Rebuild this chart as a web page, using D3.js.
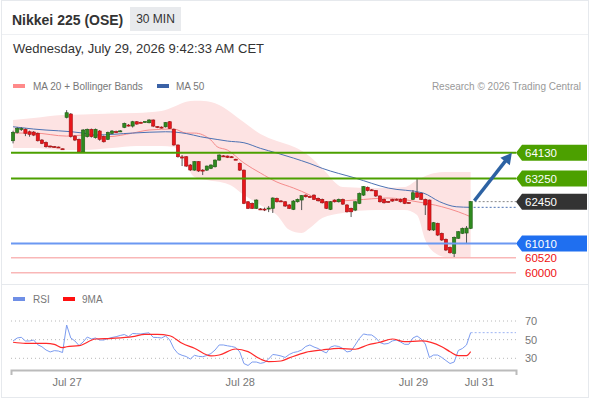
<!DOCTYPE html>
<html><head><meta charset="utf-8">
<script src="https://cdn.jsdelivr.net/npm/d3@7"></script>
<style>
html,body{margin:0;padding:0;background:#fff;}
svg{display:block;font-family:"Liberation Sans",Arial,Helvetica,sans-serif;}
</style></head><body>
<svg id="c" width="590" height="400"></svg>
<script>
// ---------- DATA ----------
const title = "Nikkei 225 (OSE)";
const interval = "30 MIN";
const dateText = "Wednesday, July 29, 2026 9:42:33 AM CET";
const copyright = "Research \u00A9 2026 Trading Central";
const legendMain = ["MA 20 + Bollinger Bands", "MA 50"];
const legendRsi = ["RSI", "9MA"];

// candles [open, high, low, close], 30-minute bars
const candles = [
[64545,64890,64455,64835],[64835,65015,64795,64970],[64950,65015,64880,64965],[64940,64970,64705,64800],[64855,64895,64685,64765],
[64845,64880,64705,64740],[64800,64830,64520,64545],[64570,64605,64430,64455],[64490,64520,64310,64340],[64365,64380,64310,64340],
[64345,64365,64310,64330],[64330,64345,64295,64310],[64270,64275,64250,64260],[65350,65600,65315,65510],[65465,65500,64655,64685],
[64705,64740,64535,64570],[64595,64620,64140,64165],[64165,64950,64155,64915],[64685,64965,64655,64940],[64940,64965,64655,64685],
[64650,64965,64620,64940],[64880,64915,64545,64595],[64685,64725,64485,64510],[64595,64860,64570,64835],[64800,64915,64775,64880],
[64860,64895,64810,64850],[64870,64915,64845,64885],[65005,65170,64980,65145],[65085,65120,65035,65075],[65050,65230,65000,65200],
[65200,65225,65095,65120],[65180,65200,65145,65170],[65195,65225,65170,65205],[65165,65290,65145,65260],[65260,65280,65015,65050],
[65035,65050,64980,65020],[65015,65040,64970,65005],[65025,65190,65000,65170],[65200,65225,64950,64970],[64940,64965,64375,64400],
[64400,64415,63965,63995],[63990,64055,63675,63950],[63995,64020,63640,63675],[63710,63745,63505,63540],[63535,63845,63515,63825],
[63825,63845,63470,63505],[63535,63570,63365,63520],[63535,63690,63505,63675],[63595,63735,63570,63710],[63650,63905,63625,63880],
[63880,64080,63855,64055],[64025,64055,63985,64010],[64020,64035,63950,63975],[63995,64020,63960,63985],[63910,63925,63880,63900],
[63770,63795,63505,63535],[63535,63555,62365,62390],[62445,62470,62195,62220],[62390,62420,62195,62220],[62220,62530,62195,62505],
[62200,62230,62160,62190],[62195,62245,62125,62185],[62220,62300,62090,62230],[62220,62600,62060,62575],[62565,62590,62420,62445],
[62475,62505,62435,62465],[62445,62470,62265,62300],[62335,62365,62195,62220],[62185,62505,62160,62470],[62445,62555,62420,62530],
[62505,62675,62160,62655],[62675,62700,62590,62620],[62625,62650,62590,62615],[62675,62700,62505,62530],[62565,62590,62455,62480],
[62530,62555,62385,62410],[62445,62470,62195,62220],[62185,62470,62160,62445],[62505,62530,62420,62445],[62445,62555,62420,62530],
[62530,62555,62335,62365],[62335,62365,62075,62100],[62220,62245,61920,62100],[62160,62470,62125,62445],[62390,62765,62365,62735],
[62675,62985,62645,62965],[62945,62970,62800,62830],[62855,62885,62820,62840],[62830,62850,62610,62645],[62645,62665,62420,62445],
[62530,62555,62385,62410],[62455,62470,62420,62440],[62530,62550,62445,62470],[62530,62555,62495,62520],[62530,62555,62420,62445],
[62565,62590,62365,62390],[62420,62435,62385,62405],[62530,62850,62505,62755],[62755,63250,62575,62600],[62735,62765,62505,62530],
[62530,62555,61990,62335],[62505,62520,61440,61475],[61475,61750,61440,61725],[61705,61725,61265,61300],[61360,61385,61095,61130],
[61155,61180,60750,60785],[60875,60905,60665,60690],[60670,61250,60525,61220],[61190,61440,61165,61415],[61360,61560,61335,61530],
[61370,61610,61025,61540],[61530,62470,61505,62450]
];

// Bollinger bands (20) sampled at bar indexes
const bbIdx   = [0,5,12,17,24,30,36,39,42,44,47,51,53,56,60,64,67,70,72,75,80,88,95,98,100,102,105,111];
const bbUpper = [65258,65327,65430,65450,65480,65500,65568,65715,65887,65920,65905,65700,65499,65180,64780,64540,64400,64200,64000,63600,62952,62918,62952,63193,63330,63430,63468,63468];
const bbLower = [64294,64294,64226,64226,64294,64363,64363,64329,63709,63296,63193,63100,63000,62677,62333,61989,61480,61370,61541,61886,62058,62161,62161,61989,61129,60716,60543,60543];
// MA 20
const ma20Idx = [0,5,13,17,23,29,33,39,42,44,48,49.5,52,56,60,64,68,72,75,83,91,98,104,108,111];
const ma20    = [64810,64810,64705,64740,64685,64810,64915,64950,64810,64810,64570,64340,64225,63780,63435,63125,62920,62675,62445,62505,62575,62445,62275,62100,61930];
// MA 50
const ma50Idx = [0,5,17,20,29,37,42,45.5,49.5,52,56,60,64,68,72,75,83,91,99.5,103.5,107.5,111];
const ma50    = [65027,64948,64810,64742,64810,64855,64793,64683,64590,64535,64477,64284,64122,63950,63761,63596,63262,62918,62746,62446,62274,62254];

// key levels
const levels     = [64130, 63250, 62450, 61010, 60520, 60000];
const levelKinds = ["res", "res", "last", "sup", "minor", "minor"];
// projection arrow [barIndex, price]
const arrowFrom = [111.9, 62480];
const arrowTo   = [121, 64130];

// RSI per bar
const rsi = [48.6,51.8,52.5,48.6,48.6,49.6,44.5,42.4,38.9,36.8,
 38.2,37.8,36.2,65.7,51.8,48.6,43.7,47.5,52.8,50.7,
 51.8,49.6,49.6,51.2,52.3,53.2,54.5,55.5,53.2,56.6,
 56.3,56.1,56.8,57.3,52.5,52.3,51.8,53.9,49.8,40.5,
 35.1,33.2,31.9,29.2,33.2,32.1,31.7,33.0,35.1,38.9,
 44.3,44.3,43.4,42.7,41.6,36.8,24.4,22.3,26.0,26.0,
 24.6,25.5,29.2,34.1,33.5,32.5,30.9,34.1,36.2,37.1,
 38.9,42.7,44.3,42.1,40.5,37.8,35.7,42.1,43.4,42.7,
 40.5,36.8,37.8,44.3,51.2,56.1,55.2,55.0,51.8,46.9,
 45.3,45.9,48.6,49.6,47.5,45.0,45.0,51.8,53.9,50.7,
 45.3,30.9,33.5,33.5,30.9,27.6,24.4,26.0,38.4,40.5,
 44.3,57.5];
// 9MA of RSI sampled
const rsiMaIdx = [0,3,8,10,12,13,16,20,24,29,32,35,38,41,44,48,50,54,57,60,62,65,67,71,75,79,83,86,89,92,95,99,104,106,108,110,111];
const rsiMa    = [47.2,46.1,46.1,45.0,41.4,42.4,43.5,50.7,51.4,53.2,55.7,55.7,54.2,46.1,40.7,32.5,33.5,40.0,37.1,29.2,26.4,27.1,30.4,36.4,38.9,40.7,39.7,44.3,47.2,50.7,47.8,48.6,42.4,37.1,32.8,32.8,37.1];
const rsiLevels = [70, 50, 30];

// x axis
const tickIdx = [13, 55, 97, 113];
const tickLbl = ["Jul 27", "Jul 28", "Jul 29", "Jul 31"];

// ---------- DRAW ----------
const svg = d3.select("#c");
const x  = d3.scaleLinear().domain([-0.5, 122]).range([11, 516]);
const y  = d3.scaleLinear().domain([59650, 66120]).range([283, 95]);
const yR = d3.scaleLinear().domain([30, 70]).range([358.3, 321]);
const XL = x(-0.5), XR = x(122);

// frame & separators
svg.append("rect").attr("x",1.5).attr("y",0.5).attr("width",587).attr("height",397)
  .attr("fill","none").attr("stroke","#e6e9ed");
svg.append("line").attr("x1",2).attr("x2",588).attr("y1",34.5).attr("y2",34.5).attr("stroke","#eef0f3");
svg.append("line").attr("x1",2).attr("x2",588).attr("y1",284.5).attr("y2",284.5).attr("stroke","#e6e9ed");

// header
svg.append("text").attr("x",12).attr("y",24.5).attr("font-size",14).attr("font-weight","bold")
  .attr("fill","#333").text(title);
svg.append("rect").attr("x",130).attr("y",7).attr("width",51).attr("height",24).attr("fill","#e8eaed");
svg.append("text").attr("x",155.5).attr("y",23).attr("text-anchor","middle").attr("font-size",12)
  .attr("fill","#333").text(interval);
svg.append("text").attr("x",13).attr("y",52.5).attr("font-size",13).attr("fill","#333").text(dateText);

// legend main
svg.append("rect").attr("x",13).attr("y",84).attr("width",12).attr("height",4).attr("fill","#ff8a8a");
svg.append("text").attr("x",33).attr("y",89.5).attr("font-size",10).attr("fill","#777").text(legendMain[0]);
svg.append("rect").attr("x",157).attr("y",84).attr("width",12).attr("height",4).attr("fill","#3b62a6");
svg.append("text").attr("x",176).attr("y",89.5).attr("font-size",10).attr("fill","#777").text(legendMain[1]);
svg.append("text").attr("x",581).attr("y",89.5).attr("text-anchor","end").attr("font-size",10)
  .attr("fill","#999").text(copyright);

// bollinger band
const bb = bbIdx.map((d,i)=>({i:d,u:bbUpper[i],l:bbLower[i]}));
svg.append("path").datum(bb)
  .attr("d", d3.area().x(d=>x(d.i)).y0(d=>y(d.l)).y1(d=>y(d.u)).curve(d3.curveMonotoneX))
  .attr("fill","#fde3e3");

// MA lines
const lineXY = d3.line().x(d=>x(d[0])).y(d=>y(d[1])).curve(d3.curveMonotoneX);
svg.append("path").datum(ma20Idx.map((d,i)=>[d,ma20[i]])).attr("d",lineXY)
  .attr("fill","none").attr("stroke","#f58c8c").attr("stroke-width",1);
svg.append("path").datum(ma50Idx.map((d,i)=>[d,ma50[i]])).attr("d",lineXY)
  .attr("fill","none").attr("stroke","#4d72b3").attr("stroke-width",1);
// ma50 projection dotted
const lastMa50 = ma50[ma50.length-1];
svg.append("line").attr("x1",x(ma50Idx[ma50Idx.length-1])+3).attr("x2",XR)
  .attr("y1",y(lastMa50)).attr("y2",y(lastMa50))
  .attr("stroke","#4d72b3").attr("stroke-dasharray","2,2").attr("stroke-width",1);

// candles
const cg = svg.append("g");
candles.forEach((c,i)=>{
  const [o,h,l,cl] = c;
  const up = cl >= o;
  const cx = x(i);
  const fill = up ? "#2f8a1f" : "#e8161b";
  const stroke = up ? "#1f5c14" : "#a30f12";
  cg.append("line").attr("x1",cx).attr("x2",cx).attr("y1",y(h)).attr("y2",y(l))
    .attr("stroke","#555").attr("stroke-width",1);
  const top = y(Math.max(o,cl)), bot = y(Math.min(o,cl));
  cg.append("rect").attr("x",cx-1.6).attr("width",3.2)
    .attr("y",top).attr("height",Math.max(bot-top,1))
    .attr("fill",fill).attr("stroke",stroke).attr("stroke-width",0.6);
});

// level lines and labels
const lastClose = candles[candles.length-1][3];
const kindStyle = {
  res:  {line:"#4ca000", w:2, box:"#4ca000", txt:"#fff"},
  last: {line:"#888",    w:1, box:"#333333", txt:"#fff"},
  sup:  {line:"#6b98f2", w:2, box:"#1f6ff0", txt:"#fff"},
  minor:{line:"#f9b7b7", w:1.5, box:null,    txt:"#ee1111"}
};
levels.forEach((v,k)=>{
  const s = kindStyle[levelKinds[k]];
  const yy = y(v);
  if (levelKinds[k]==="last") {
    svg.append("line").attr("x1",x(candles.length-1)+4).attr("x2",XR).attr("y1",yy).attr("y2",yy)
      .attr("stroke",s.line).attr("stroke-dasharray","2,2");
  } else {
    svg.append("line").attr("x1",XL).attr("x2",XR).attr("y1",yy).attr("y2",yy)
      .attr("stroke",s.line).attr("stroke-width",s.w);
  }
  if (s.box) {
    const p = [[516,yy],[522,yy-8],[587,yy-8],[587,yy+8],[522,yy+8]];
    svg.append("path").attr("d","M"+p.map(q=>q.join(",")).join("L")+"Z").attr("fill",s.box);
  }
  svg.append("text").attr("x",525).attr("y",yy).attr("dy","0.36em").attr("font-size",11.5)
    .attr("fill",s.txt).text(String(v));
});

// arrow
(function(){
  const x1=x(arrowFrom[0]), y1=y(arrowFrom[1]), x2=x(arrowTo[0]), y2=y(arrowTo[1]);
  const dx=x2-x1, dy=y2-y1, L=Math.hypot(dx,dy), ux=dx/L, uy=dy/L;
  const hl=11, hw=6;
  const bx=x2-ux*hl, by=y2-uy*hl;
  svg.append("line").attr("x1",x1).attr("y1",y1).attr("x2",bx+ux*1).attr("y2",by+uy*1)
    .attr("stroke","#2d62a3").attr("stroke-width",3.5);
  svg.append("path").attr("d",`M${x2},${y2}L${bx-uy*hw},${by+ux*hw}L${bx+uy*hw},${by-ux*hw}Z`)
    .attr("fill","#2d62a3");
})();

// RSI legend
svg.append("rect").attr("x",13).attr("y",297).attr("width",12).attr("height",4).attr("fill","#6f8fe6");
svg.append("text").attr("x",33).attr("y",302.5).attr("font-size",10).attr("fill","#777").text(legendRsi[0]);
svg.append("rect").attr("x",63).attr("y",297).attr("width",12).attr("height",4).attr("fill","#ff1010");
svg.append("text").attr("x",82).attr("y",302.5).attr("font-size",10).attr("fill","#777").text(legendRsi[1]);

// RSI grid
rsiLevels.forEach(v=>{
  svg.append("line").attr("x1",XL).attr("x2",XR).attr("y1",yR(v)).attr("y2",yR(v))
    .attr("stroke","#b8b8b8").attr("stroke-dasharray","1,3");
  svg.append("text").attr("x",525).attr("y",yR(v)).attr("dy","0.36em").attr("font-size",11)
    .attr("fill","#777").text(v);
});
// RSI line
svg.append("path").datum(rsi).attr("d", d3.line().x((d,i)=>x(i)).y(d=>yR(d)))
  .attr("fill","none").attr("stroke","#7c9cf0").attr("stroke-width",1);
svg.append("line").attr("x1",x(rsi.length-1)).attr("x2",XR)
  .attr("y1",yR(rsi[rsi.length-1])).attr("y2",yR(rsi[rsi.length-1]))
  .attr("stroke","#9db4f3").attr("stroke-dasharray","2,2");
// 9MA
svg.append("path").datum(rsiMaIdx.map((d,i)=>[d,rsiMa[i]]))
  .attr("d", d3.line().x(d=>x(d[0])).y(d=>yR(d[1])).curve(d3.curveMonotoneX))
  .attr("fill","none").attr("stroke","#ff2a2a").attr("stroke-width",1.2);

// x axis
const ax = svg.append("g").attr("transform","translate(0,370)")
  .call(d3.axisBottom(x).tickValues(tickIdx).tickFormat((d,i)=>tickLbl[i])
        .tickSizeInner(0).tickSizeOuter(5).tickPadding(8));
ax.select(".domain").attr("stroke","#bbb").attr("stroke-width",2);
ax.selectAll("text").attr("font-size",11).attr("fill","#777")
  .attr("font-family","'Liberation Sans',Arial,sans-serif");
</script>
</body></html>
